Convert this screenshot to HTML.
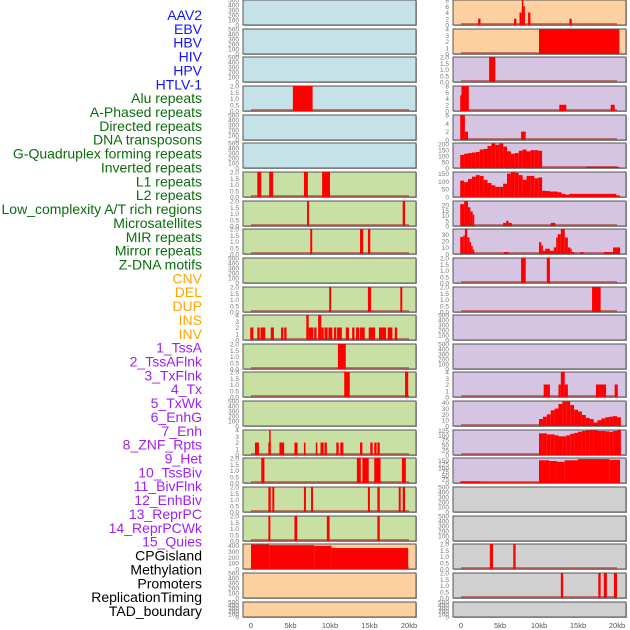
<!DOCTYPE html>
<html><head><meta charset="utf-8"><style>
html,body{margin:0;padding:0;background:#fff;width:630px;height:630px;overflow:hidden}
svg{display:block;font-family:"Liberation Sans",sans-serif}
</style></head><body>
<svg id="chart" width="630" height="630"></svg>
<script>
// ---- data ----
const trackLabels=["AAV2","EBV","HBV","HIV","HPV","HTLV-1","Alu repeats","A-Phased repeats","Directed repeats","DNA transposons","G-Quadruplex forming repeats","Inverted repeats","L1 repeats","L2 repeats","Low_complexity A/T rich regions","Microsatellites","MIR repeats","Mirror repeats","Z-DNA motifs","CNV","DEL","DUP","INS","INV","1_TssA","2_TssAFlnk","3_TxFlnk","4_Tx","5_TxWk","6_EnhG","7_Enh","8_ZNF_Rpts","9_Het","10_TssBiv","11_BivFlnk","12_EnhBiv","13_ReprPC","14_ReprPCWk","15_Quies","CPGisland","Methylation","Promoters","ReplicationTiming","TAD_boundary"];
const labelGroups=[6,13,5,15,5];
const xTicks=[0,5,10,15,20];
const xTickLabels=["0","5kb","10kb","15kb","20kb"];
const t2=["0.0","0.5","1.0","1.5","2.0"];
const t500=[0,100,200,300,400,500];
// left column segments [startKb,endKb,value]
const L_alu=[[5.3,7.8,2]];
const L_l1=[[0.8,1.3,2],[2.3,2.8,2],[6.7,7.2,2],[9.0,10.0,2]];
const L_r8=[[7.1,7.35,2],[19.2,19.5,2]];
const L_r9=[[7.5,7.75,2],[13.8,14.2,2],[14.8,15.1,2]];
const L_r11=[[9.9,10.15,2],[14.8,15.2,2],[18.9,19.15,2]];
const L_ins=[[-0.1,0.3,2],[0.8,1.1,2],[1.2,1.8,2],[2.5,2.9,2],[3.8,4.1,2],[4.2,4.5,2],[7.0,7.3,4],[7.3,7.9,2],[8.0,8.3,2],[8.5,8.9,4],[8.9,9.2,2],[9.3,9.7,2],[9.8,10.3,2],[10.5,10.8,2],[10.9,11.5,2],[12.0,12.4,2],[12.8,13.1,2],[13.3,13.7,2],[13.8,14.4,2],[14.9,15.7,2],[16.2,17.1,2],[17.3,17.9,2],[18.2,18.5,2]];
const L_tssa=[[11.0,12.0,2]];
const L_tssaf=[[11.8,12.5,2],[19.5,19.9,2]];
const L_enh=[[0.5,1.0,2],[2.2,2.5,2],[2.3,2.45,4],[3.6,4.2,2],[5.5,5.9,2],[6.7,6.9,2],[8.2,8.4,2],[8.8,9.2,2],[9.3,9.6,2],[10.8,11.1,2],[11.3,11.7,2],[13.8,14.1,2],[15.1,15.4,2],[15.6,15.9,2],[16.0,16.3,2]];
const L_r17=[[1.3,1.7,2],[13.4,13.9,2],[14.1,14.9,2],[15.6,16.4,2],[19.1,19.6,2]];
const L_r18=[[2.2,2.5,2],[2.7,2.95,2],[6.7,6.95,2],[7.6,7.85,2],[14.8,15.05,2],[16.0,16.3,2],[18.7,18.95,2],[19.2,19.5,2]];
const L_r19=[[2.2,2.45,2],[5.5,5.85,2],[9.6,9.95,2],[16.0,16.3,2]];
const L_cpg=[[0,2.3,420],[2.3,8.0,410],[8.0,10.2,400],[10.2,19.9,360]];
// right column segments
const R_aav=[[2.2,2.5,2],[6.8,7.1,2],[7.5,7.8,4],[7.8,8.0,8],[8.0,8.2,6],[8.6,8.9,4],[13.9,14.2,2]];
const R_ebv=[[10.0,20.3,4]];
const R_hiv=[[3.6,4.4,2]];
const R_alu=[[-0.1,0.05,5],[0.05,1.0,8],[12.6,13.5,2],[19.2,19.7,2]];
const R_r5=[[-0.1,0.5,6],[0.5,0.9,2],[7.7,8.3,2]];
const R_gq=[110,120,125,130,135,155,160,185,205,195,205,180,140,120,125,145,155,140,150,150,145];
const R_gqTail=[[16.0,20.3,10]];
const R_l1=[105,95,115,130,140,135,110,90,75,65,65,85,150,160,155,140,110,135,135,120,125,40,38,35,35,30,20,15,20,20,20,20,20,20,20,20,20,20,20,20,10];
const R_low=[[-0.1,0.4,21],[0.4,0.9,24],[0.9,1.2,18],[1.2,1.5,14],[1.5,1.7,11],[5.4,5.8,3],[5.8,6.1,5],[6.1,6.5,3],[11.5,12.1,3]];
const R_mir=[[-0.1,0.3,26],[0.3,0.5,28],[0.5,0.8,38],[0.8,1.1,25],[1.1,1.3,18],[1.3,1.5,12],[1.5,1.7,7],[5.5,6.1,3],[10.0,10.3,18],[10.3,10.5,13],[10.5,10.8,5],[10.8,11.4,8],[11.4,11.9,5],[11.9,12.2,10],[12.2,12.4,25],[12.4,12.8,30],[12.8,13.3,38],[13.3,13.7,25],[13.7,14.0,10],[14.0,14.2,8],[14.2,14.5,3],[15.3,15.7,3],[18.3,19.5,3],[19.5,20.4,10]];
const R_zdna=[[7.7,8.3,2],[11.0,11.4,2]];
const R_cnv=[[16.8,17.9,2]];
const R_r14=[[10.6,11.4,2],[12.5,12.8,2],[12.8,13.3,4],[13.3,13.7,2],[17.3,18.6,2],[19.7,20.1,2]];
const R_r15=[12,16,20,27,30,38,42,42,36,28,25,19,14,12,6,10,13,15,16,17,15];
const R_r16=[110,110,105,105,100,95,95,100,108,112,118,122,125,125,125,122,122,120,118,122,125];
const R_r17=[[-0.1,2.5,10],[2.5,10.0,5],[10.0,11.3,150],[11.3,12.3,145],[12.3,13.3,140],[13.3,15.0,150],[15.0,19.0,158],[19.0,20.4,153]];
const R_r20=[[3.7,4.1,2],[6.7,7.0,2]];
const R_r21=[[12.8,13.1,2],[17.6,17.9,2],[18.3,18.7,2],[19.6,20.0,2]];

function bins(start,vals){return vals.map((v,i)=>[start+i*0.5,start+(i+1)*0.5,v]);}

const BL="#c6e2e9",GR="#c8e0a4",OR="#fdd09f",PU="#d5c5e2",GY="#d0d0d0";
// [bg, segments, yMax, ticks]
const leftTracks=[
[BL,null,500,t500],[BL,null,500,t500],[BL,null,500,t500],[BL,L_alu,2,t2],[BL,null,500,t500],[BL,null,500,t500],
[GR,L_l1,2,t2],[GR,L_r8,2,t2],[GR,L_r9,2,t2],[GR,null,500,t500],[GR,L_r11,2,t2],[GR,L_ins,4,[0,1,2,3,4]],
[GR,L_tssa,2,t2],[GR,L_tssaf,2,t2],[GR,null,500,t500],[GR,L_enh,4,[0,1,2,3,4]],[GR,L_r17,2,t2],[GR,L_r18,2,t2],[GR,L_r19,2,t2],
[OR,L_cpg,430,[0,100,200,300,400]],[OR,null,500,t500],[OR,null,500,t500]];
const rightTracks=[
[OR,R_aav,8,[0,2,4,6,8]],[OR,R_ebv,4,[0,1,2,3,4]],[PU,R_hiv,2,t2],[PU,R_alu,8,[0,2,4,6,8]],[PU,R_r5,6,[0,2,4,6]],
[PU,bins(-0.1,R_gq).concat(R_gqTail),210,[0,50,100,150,200]],[PU,bins(-0.1,R_l1),160,[0,50,100,150]],
[PU,R_low,24,[0,5,10,15,20]],[PU,R_mir,38,[0,10,20,30]],[PU,R_zdna,2,t2],[PU,R_cnv,2,t2],[PU,null,500,t500],
[PU,null,500,t500],[PU,R_r14,4,[0,1,2,3,4]],[PU,bins(10.0,R_r15),43,[0,10,20,30,40]],[PU,bins(10.0,R_r16),127,[0,25,50,75,100,125]],
[PU,R_r17,165,[0,25,50,75,100,125,150]],[GY,null,500,t500],[GY,null,500,t500],[GY,R_r20,2,t2],[GY,R_r21,2,t2],[GY,null,500,t500]];

// ---- drawing ----
const svg=document.getElementById('chart');
const NS="http://www.w3.org/2000/svg";
function mk(tag,attrs,parent){const e=document.createElementNS(NS,tag);for(const k in attrs)e.setAttribute(k,attrs[k]);(parent||svg).appendChild(e);return e;}
const colDefs=[{x0:243,x1:416,z:251,k:7.9,tickX:239,tracks:leftTracks,name:'left'},{x0:453,x1:626,z:461,k:7.8,tickX:449,tracks:rightTracks,name:'right'}];
function rowTop(i){return Math.round(i*28.65);}
function rowH(i){return i===21?15:25;}

colDefs.forEach(col=>{
  const xs=kb=>col.z+kb*col.k;
  col.tracks.forEach((tr,i)=>{
    const top=rowTop(i),h=rowH(i);
    const g=mk('g',{});
    
    
    mk('rect',{x:col.x0+1,y:top+1,width:col.x1-col.x0,height:h,fill:'#aaa'},g);
    mk('rect',{x:col.x0,y:top,width:col.x1-col.x0,height:h,fill:tr[0],stroke:'#555','stroke-width':1},g);
    const ys=v=>top+h-(v/tr[2])*h;
    tr[3].forEach(t=>{
      const tx=mk('text',{x:col.tickX,y:ys(parseFloat(t))+2.5,'font-size':6.5,fill:'#777','text-anchor':'end'},g);
      tx.textContent=t;
      
      
    });
    if(tr[1]){
      const bl=mk('line',{x1:xs(0),x2:xs(20),y1:top+h-1,y2:top+h-1,stroke:'#b0302a','stroke-opacity':0.6,'stroke-width':2},g);
      
      
      tr[1].forEach(s=>{
        const r=mk('rect',{x:xs(s[0]),y:ys(s[2]),width:Math.max(1.5,xs(s[1])-xs(s[0])),height:top+h-ys(s[2]),fill:'#ff0000'},g);
        
        
      });
    }
  });
  xTicks.forEach((t,j)=>{
    const tx=mk('text',{x:xs(t),y:628,'font-size':7.5,fill:'#555','text-anchor':'middle'});
    tx.textContent=xTickLabels[j];
    
    
  });
});

const groupColors=["#1414ff","#0a6e0a","#ffa500","#a020f0","#000"];
let idx=0;
labelGroups.forEach((n,gi)=>{
  for(let j=0;j<n;j++,idx++){
    const tx=mk('text',{x:202,y:20+idx*13.86,'font-size':14,fill:groupColors[gi],'text-anchor':'end'});
    tx.textContent=trackLabels[idx];
    
    
  }
});
</script>
</body></html>
